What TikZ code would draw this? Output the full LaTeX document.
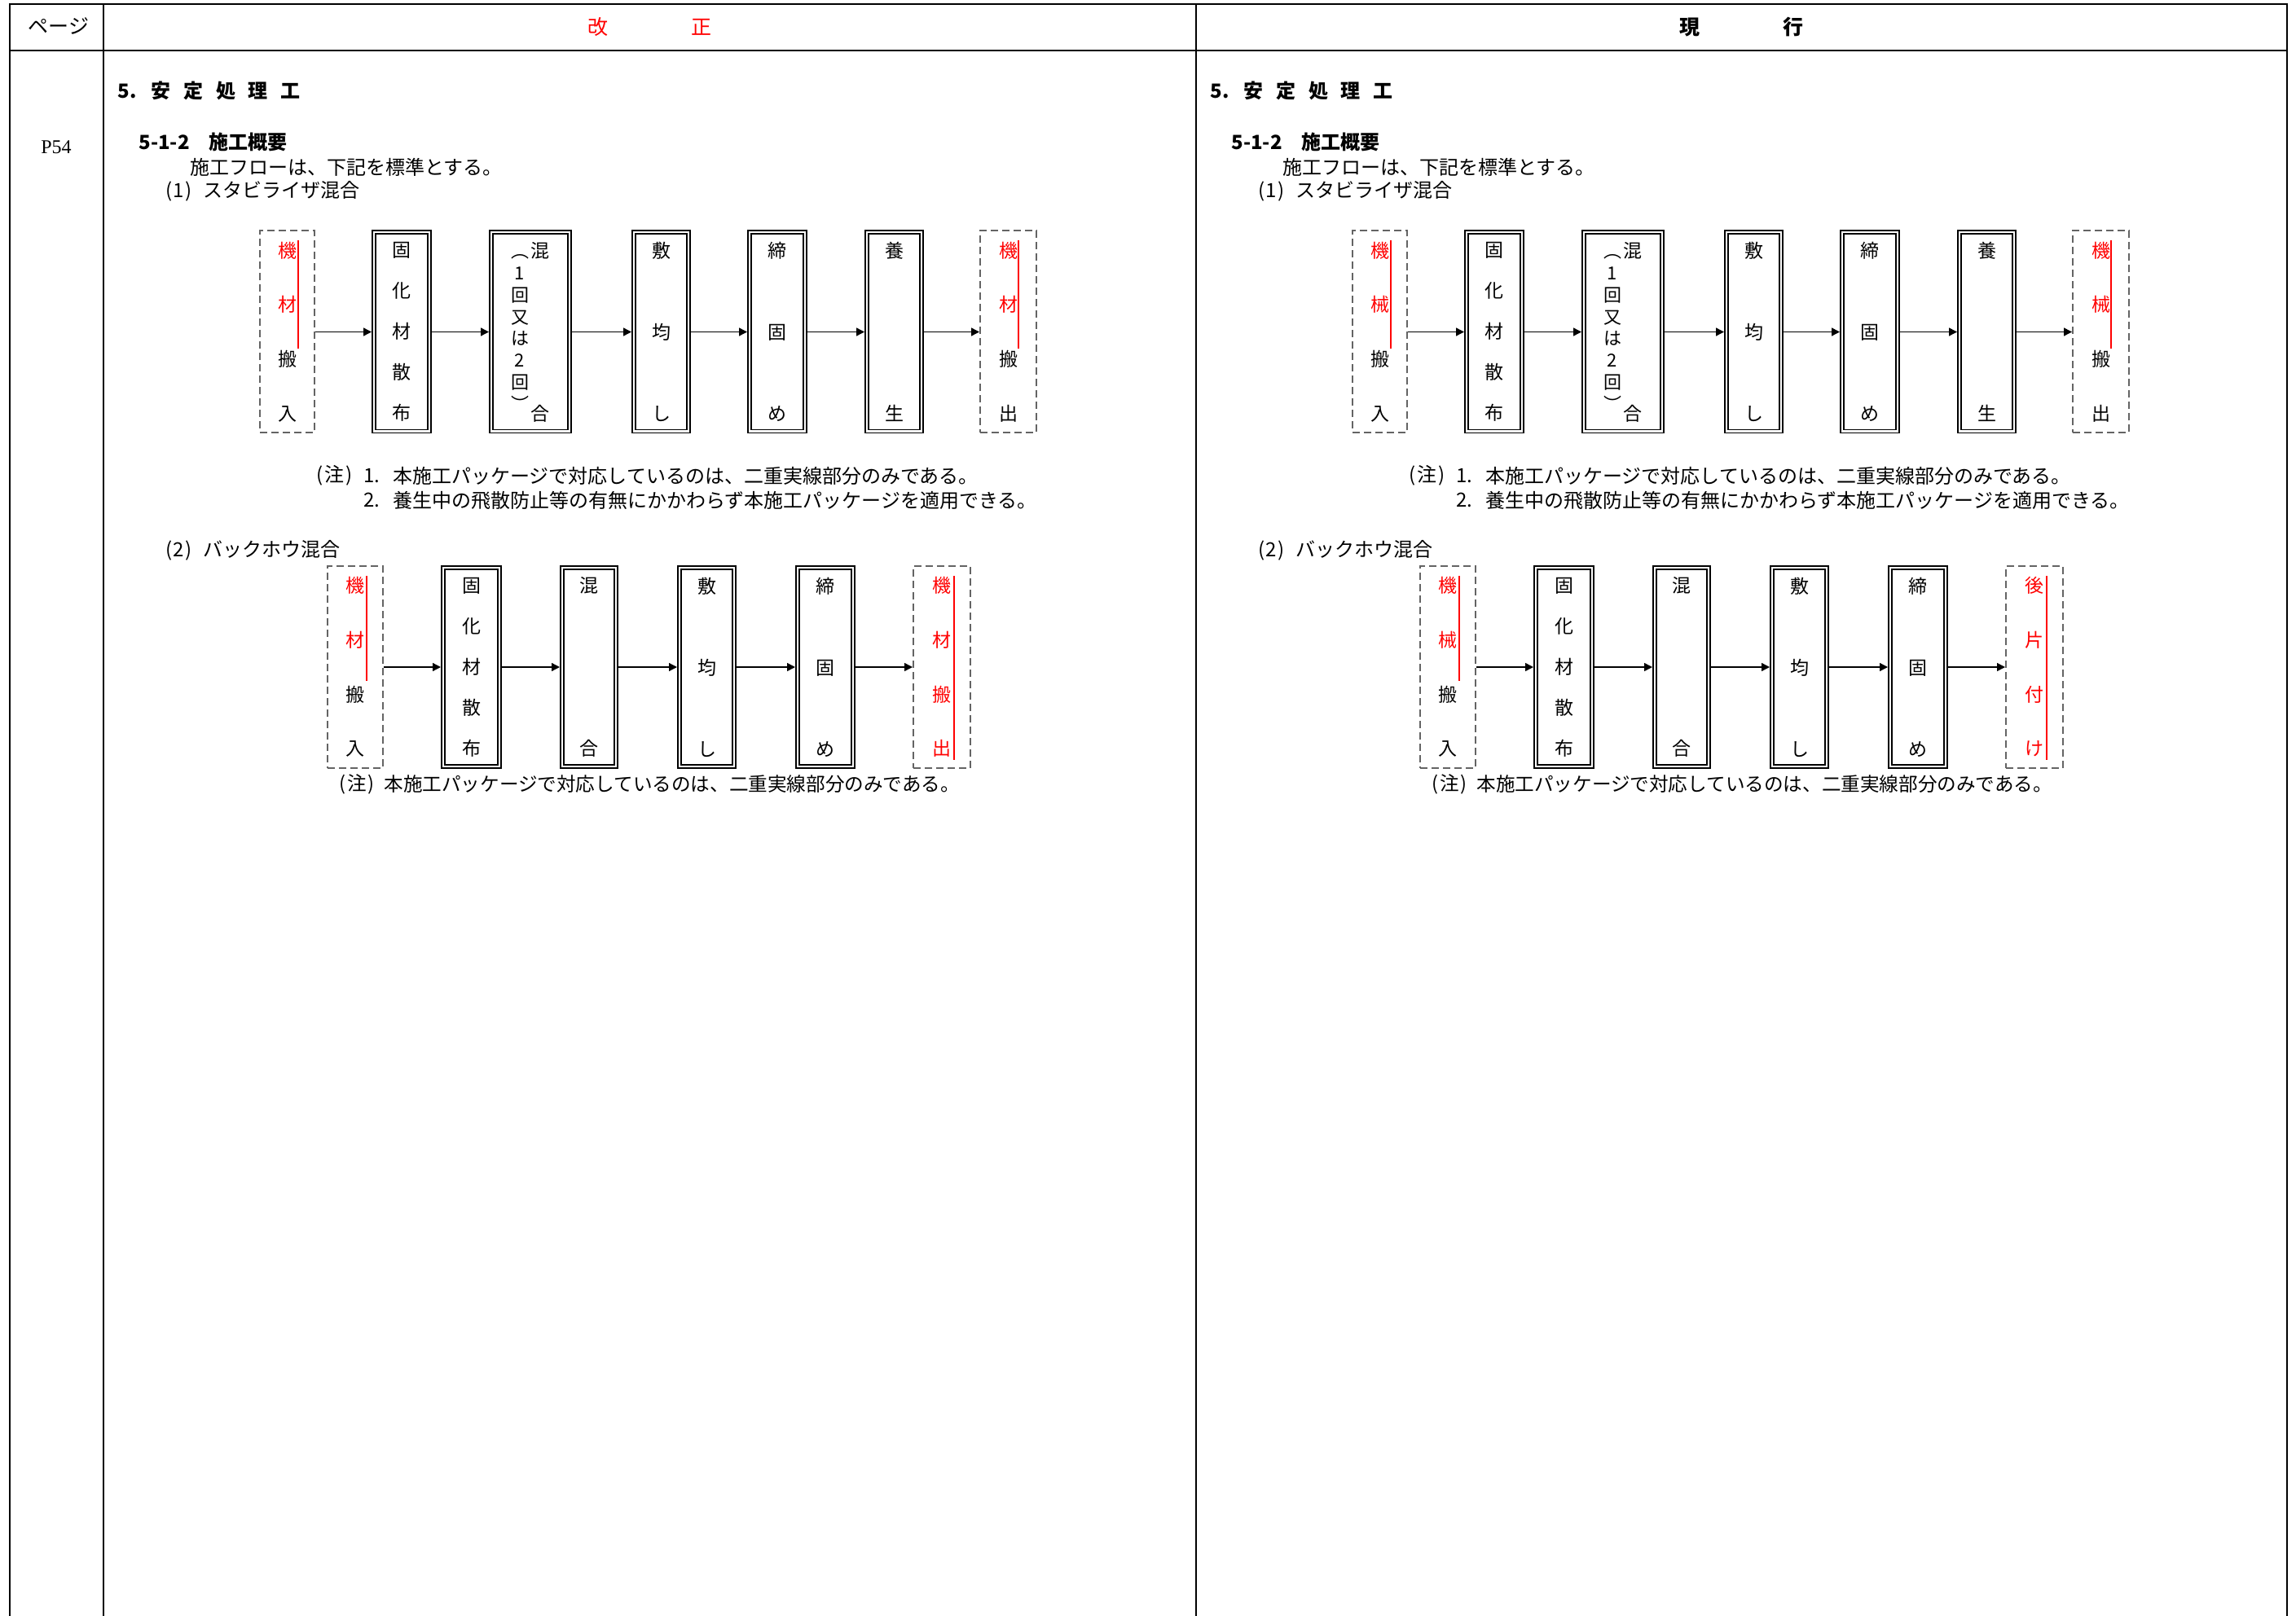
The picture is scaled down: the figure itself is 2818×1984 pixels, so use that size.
\documentclass[tikz,border=0pt]{standalone}
\usepackage{fontspec}
\setmainfont{Noto Sans CJK JP}
\newfontfamily\serifp{Liberation Serif}
\usetikzlibrary{arrows.meta}
\definecolor{dgray}{RGB}{100,100,100}
\newcommand\rd[1]{\textcolor{red}{#1}}
\newcommand\hw[1]{\makebox[0.5em]{#1}}
\tikzset{
  tbl/.style={line width=0.9pt, line join=miter},
  dbl/.style n args={2}{draw, line width=0.8pt, double, double distance=1.2pt, inner sep=0pt, outer sep=1.4pt,
     minimum width={(#1*0.5-2.8)*1pt}, minimum height={(#2*0.5-2.8)*1pt}, align=center},
  dsh/.style n args={2}{draw=dgray, line width=1pt, dash pattern=on 4.5pt off 2.5pt, inner sep=0pt, outer sep=0.5pt,
     minimum width={(#1*0.5-1)*1pt}, minimum height={(#2*0.5-1)*1pt}, align=center},
  p5/.style={font=\fontsize{11.5pt}{25pt}\selectfont, align=center, inner sep=0pt},
  p4/.style={font=\fontsize{11.5pt}{33.33pt}\selectfont, align=center, inner sep=0pt},
  p3/.style={font=\fontsize{11.5pt}{50pt}\selectfont, align=center, inner sep=0pt},
  p2/.style={font=\fontsize{11.5pt}{100pt}\selectfont, align=center, inner sep=0pt},
  pp/.style={font=\fontsize{11pt}{13.4pt}\selectfont, align=center, inner sep=0pt},
  arr/.style={line width=0.7pt, -{Triangle[length=5pt,width=5pt]}},
  redln/.style={draw=red, line width=1pt},
  txt/.style={anchor=west, inner sep=0pt, font=\fontsize{12pt}{14pt}\selectfont},
  hd/.style={anchor=west, inner sep=0pt, font=\fontsize{12pt}{14pt}\selectfont\bfseries},
  hdr/.style={inner sep=0pt, font=\fontsize{12.5pt}{14pt}\selectfont},
}
\newcommand\coltext[1]{%
  \node[hd] (#1-h1) at (144,111) {5.\hspace{9pt}安\hspace{7.9pt}定\hspace{7.9pt}処\hspace{7.9pt}理\hspace{7.9pt}工};
  \node[hd] (#1-h2) at (170,174) {5-1-2　施工概要};
  \node[txt] (#1-t1) at (233,205) {施工フローは、下記を標準とする。};
  \node[txt] (#1-t2) at (201,235) {\hw{(}\hw{1}\hw{)}\hw{ }スタビライザ混合};
  \node[txt] (#1-n1a) at (386,584) {\hw{(}注\hw{)}};
  \node[txt] (#1-n1b) at (446,584) {1.};
  \node[txt] (#1-n1c) at (482,584) {本施工パッケージで対応しているのは、二重実線部分のみである。};
  \node[txt] (#1-n2b) at (446,614) {2.};
  \node[txt] (#1-n2c) at (482,614) {養生中の飛散防止等の有無にかかわらず本施工パッケージを適用できる。};
  \node[txt] (#1-t3) at (201,676) {\hw{(}\hw{2}\hw{)}\hw{ }バックホウ混合};
  \node[txt, font=\fontsize{11.8pt}{14pt}\selectfont] (#1-n3a) at (414,963) {\hw{(}注\hw{)}};
  \node[txt, font=\fontsize{11.8pt}{14pt}\selectfont] (#1-n3b) at (471,963) {本施工パッケージで対応しているのは、二重実線部分のみである。};
}
\newcommand\flowone[3]{%
  \node[dsh={69}{250}, p4] (#1-s) at (352.5,407.5) {#2};
  \node[dbl={74}{250}, p5] (#1-b1) at (493,407.5) {固\\化\\材\\散\\布};
  \node[dbl={102}{250}] (#1-b2) at (651,407.5) {};
  \node[p2] (#1-b2m) at (663,407.5) {混\\合};
  \node[pp] (#1-b2p) at (638,408.5) {︵\\1\\回\\又\\は\\2\\回\\︶};
  \node[dbl={73}{250}, p3] (#1-b3) at (811.5,407.5) {敷\\均\\し};
  \node[dbl={74}{250}, p3] (#1-b4) at (954,407.5) {締\\固\\め};
  \node[dbl={73}{250}, p2] (#1-b5) at (1097.5,407.5) {養\\生};
  \node[dsh={71}{250}, p4] (#1-e) at (1237.5,407.5) {#3};
  \draw[arr] (#1-s) -- (#1-b1);
  \draw[arr] (#1-b1) -- (#1-b2);
  \draw[arr] (#1-b2) -- (#1-b3);
  \draw[arr] (#1-b3) -- (#1-b4);
  \draw[arr] (#1-b4) -- (#1-b5);
  \draw[arr] (#1-b5) -- (#1-e);
  \draw[redln] (366,295) -- (366,428);
  \draw[redln] (1250,295) -- (1250,428);
}
\newcommand\flowtwo[3]{%
  \node[dsh={70}{250}, p4] (#1-s) at (436,819) {#2};
  \node[dbl={75}{250}, p5] (#1-c1) at (578.5,819) {固\\化\\材\\散\\布};
  \node[dbl={72}{250}, p2] (#1-c2) at (723,819) {混\\合};
  \node[dbl={73}{250}, p3] (#1-c3) at (867.5,819) {敷\\均\\し};
  \node[dbl={74}{250}, p3] (#1-c4) at (1013,819) {締\\固\\め};
  \node[dsh={72}{250}, p4] (#1-e) at (1156,819) {#3};
  \draw[arr] (#1-s) -- (#1-c1);
  \draw[arr] (#1-c1) -- (#1-c2);
  \draw[arr] (#1-c2) -- (#1-c3);
  \draw[arr] (#1-c3) -- (#1-c4);
  \draw[arr] (#1-c4) -- (#1-e);
  \draw[redln] (450,707) -- (450,836);
  \draw[redln] (1170.5,707) -- (1170.5,933);
}
\begin{document}
\begin{tikzpicture}[x=0.5pt, y=-0.5pt]
\useasboundingbox (0,0) rectangle (2818,1984);
% table frame
\draw[tbl] (12,1984) -- (12,5) -- (2807,5) -- (2807,1984);
\draw[tbl] (12,62) -- (2807,62);
\draw[tbl] (127,5) -- (127,1984);
\draw[tbl] (1468,5) -- (1468,1984);
% headers
\node[hdr] (hpage) at (72,32) {ページ};
\node[hdr, text=red] (hnew) at (797.5,33) {改\hspace{51pt}正};
\node[hdr, font=\fontsize{12.5pt}{14pt}\selectfont\bfseries] (hold) at (2137.5,33) {現\hspace{51pt}行};
\node[inner sep=0pt, font=\serifp\fontsize{12pt}{14pt}\selectfont] (pg) at (69,181) {P54};
% left column (revised)
\coltext{L}
\flowone{L1}{\rd{機}\\\rd{材}\\搬\\入}{\rd{機}\\\rd{材}\\搬\\出}
\flowtwo{L2}{\rd{機}\\\rd{材}\\搬\\入}{\rd{機}\\\rd{材}\\\rd{搬}\\\rd{出}}
% right column (current)
\begin{scope}[shift={(1341,0)}]
\coltext{R}
\flowone{R1}{\rd{機}\\\rd{械}\\搬\\入}{\rd{機}\\\rd{械}\\搬\\出}
\flowtwo{R2}{\rd{機}\\\rd{械}\\搬\\入}{\rd{後}\\\rd{片}\\\rd{付}\\\rd{け}}
\end{scope}
\end{tikzpicture}
\end{document}
